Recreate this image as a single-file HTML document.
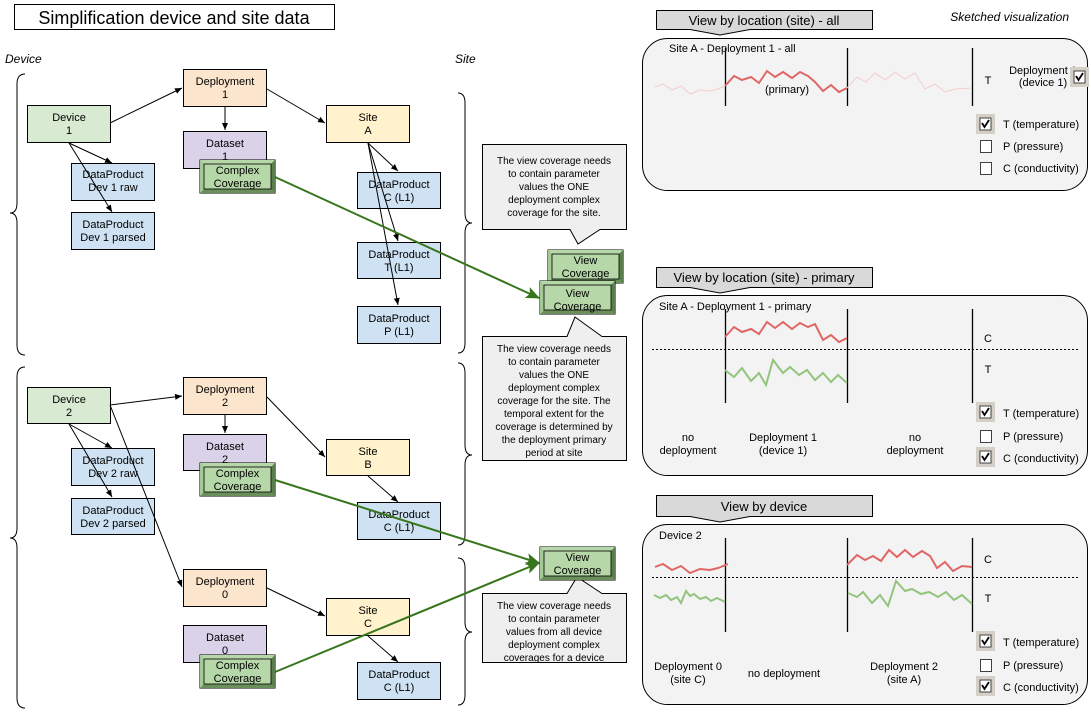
<!DOCTYPE html>
<html><head><meta charset="utf-8"><style>
html,body{margin:0;padding:0;background:#fff;}
svg{display:block;font-family:"Liberation Sans",Arial,sans-serif;}
</style></head><body>
<svg width="1091" height="719" viewBox="0 0 1091 719" xmlns="http://www.w3.org/2000/svg">
<defs>
<marker id="ab" markerWidth="8" markerHeight="8" refX="7" refY="4" orient="auto" markerUnits="userSpaceOnUse"><path d="M0,1 L7,4 L0,7 Z" fill="#000"/></marker>
<marker id="ag" markerWidth="14" markerHeight="12" refX="13" refY="6" orient="auto" markerUnits="userSpaceOnUse"><path d="M0,0 L14,6 L0,12 L3,6 Z" fill="#38761d"/></marker>
<g id="bev">
<rect x="0" y="0" width="75" height="33" fill="#93c47d" stroke="#000" stroke-width="1"/>
<polygon points="0,0 75,0 71,4 4,4" fill="#b6d7a8"/>
<polygon points="0,33 75,33 71,29 4,29" fill="#6a8f5a"/>
<polygon points="75,0 75,33 71,29 71,4" fill="#5b7f4c"/>
<polygon points="0,0 0,33 4,29 4,4" fill="#a5c996"/>
<rect x="4" y="4" width="67" height="25" fill="#b6d7a8" stroke="#000" stroke-width="0.8"/>
</g>
</defs>

<!-- title -->
<rect x="14.5" y="4.5" width="320" height="25" fill="#fff" stroke="#000"/>
<text x="174" y="24" font-size="18" text-anchor="middle">Simplification device and site data</text>
<text x="5" y="63" font-size="12" font-style="italic">Device</text>
<text x="455" y="63" font-size="12" font-style="italic">Site</text>

<!-- braces -->
<g fill="none" stroke="#000" stroke-width="1">
<path d="M25,74 Q17,74 17,84 L17,203 Q17,213 10,213 Q17,213 17,223 L17,345 Q17,355 25,355"/>
<path d="M25,367 Q17,367 17,377 L17,528 Q17,538 10,538 Q17,538 17,548 L17,698 Q17,708 25,708"/>
<path d="M458,93 Q465,93 465,103 L465,213 Q465,223 472,223 Q465,223 465,233 L465,343 Q465,353 458,353"/>
<path d="M458,363 Q465,363 465,373 L465,445 Q465,455 472,455 Q465,455 465,465 L465,535 Q465,545 458,545"/>
<path d="M458,558 Q465,558 465,568 L465,622 Q465,632 472,632 Q465,632 465,642 L465,695 Q465,705 458,705"/>
</g>

<!-- boxes -->
<g stroke="#000" stroke-width="1" font-size="11" text-anchor="middle">
<rect x="27.5" y="105.5" width="83" height="37" fill="#d9ead3"/>
<text x="69" y="121" stroke="none">Device</text><text x="69" y="134" stroke="none">1</text>
<rect x="183.5" y="69.5" width="83" height="37" fill="#fce5cd"/>
<text x="225" y="85" stroke="none">Deployment</text><text x="225" y="98" stroke="none">1</text>
<rect x="183.5" y="131.5" width="83" height="37" fill="#d9d2e9"/>
<text x="225" y="147" stroke="none">Dataset</text><text x="225" y="160" stroke="none">1</text>
<rect x="71.5" y="163.5" width="83" height="37" fill="#cfe2f3"/>
<text x="113" y="178" stroke="none">DataProduct</text><text x="113" y="191" stroke="none">Dev 1 raw</text>
<rect x="71.5" y="212.5" width="83" height="37" fill="#cfe2f3"/>
<text x="113" y="228" stroke="none">DataProduct</text><text x="113" y="241" stroke="none">Dev 1 parsed</text>
<rect x="326.5" y="105.5" width="83" height="37" fill="#fff2cc"/>
<text x="368" y="121" stroke="none">Site</text><text x="368" y="134" stroke="none">A</text>
<rect x="357.5" y="172.5" width="83" height="36" fill="#cfe2f3"/>
<text x="399" y="188" stroke="none">DataProduct</text><text x="399" y="201" stroke="none">C (L1)</text>
<rect x="357.5" y="242.5" width="83" height="36" fill="#cfe2f3"/>
<text x="399" y="258" stroke="none">DataProduct</text><text x="399" y="271" stroke="none">T (L1)</text>
<rect x="357.5" y="306.5" width="83" height="37" fill="#cfe2f3"/>
<text x="399" y="322" stroke="none">DataProduct</text><text x="399" y="335" stroke="none">P (L1)</text>

<rect x="27.5" y="387.5" width="83" height="36" fill="#d9ead3"/>
<text x="69" y="403" stroke="none">Device</text><text x="69" y="416" stroke="none">2</text>
<rect x="183.5" y="377.5" width="83" height="37" fill="#fce5cd"/>
<text x="225" y="393" stroke="none">Deployment</text><text x="225" y="406" stroke="none">2</text>
<rect x="183.5" y="434.5" width="83" height="36" fill="#d9d2e9"/>
<text x="225" y="450" stroke="none">Dataset</text><text x="225" y="463" stroke="none">2</text>
<rect x="71.5" y="448.5" width="83" height="37" fill="#cfe2f3"/>
<text x="113" y="464" stroke="none">DataProduct</text><text x="113" y="477" stroke="none">Dev 2 raw</text>
<rect x="71.5" y="498.5" width="83" height="36" fill="#cfe2f3"/>
<text x="113" y="514" stroke="none">DataProduct</text><text x="113" y="527" stroke="none">Dev 2 parsed</text>
<rect x="326.5" y="439.5" width="83" height="36" fill="#fff2cc"/>
<text x="368" y="455" stroke="none">Site</text><text x="368" y="468" stroke="none">B</text>
<rect x="357.5" y="502.5" width="83" height="37" fill="#cfe2f3"/>
<text x="399" y="518" stroke="none">DataProduct</text><text x="399" y="531" stroke="none">C (L1)</text>
<rect x="183.5" y="569.5" width="83" height="37" fill="#fce5cd"/>
<text x="225" y="585" stroke="none">Deployment</text><text x="225" y="598" stroke="none">0</text>
<rect x="326.5" y="598.5" width="83" height="37" fill="#fff2cc"/>
<text x="368" y="614" stroke="none">Site</text><text x="368" y="627" stroke="none">C</text>
<rect x="183.5" y="625.5" width="83" height="37" fill="#d9d2e9"/>
<text x="225" y="641" stroke="none">Dataset</text><text x="225" y="654" stroke="none">0</text>
<rect x="357.5" y="662.5" width="83" height="37" fill="#cfe2f3"/>
<text x="399" y="678" stroke="none">DataProduct</text><text x="399" y="691" stroke="none">C (L1)</text>
</g>

<!-- black arrows -->
<g stroke="#000" stroke-width="1" marker-end="url(#ab)" fill="none">
<line x1="110" y1="123" x2="182" y2="88"/>
<line x1="225" y1="107" x2="225" y2="130"/>
<line x1="267" y1="89" x2="325" y2="123"/>
<line x1="69" y1="143" x2="112" y2="163"/>
<line x1="69" y1="143" x2="112" y2="212"/>
<line x1="368" y1="143" x2="398" y2="171"/>
<line x1="368" y1="143" x2="398" y2="241"/>
<line x1="368" y1="143" x2="398" y2="305"/>
<line x1="110" y1="405" x2="182" y2="396"/>
<line x1="110" y1="405" x2="182" y2="587"/>
<line x1="225" y1="415" x2="225" y2="433"/>
<line x1="267" y1="397" x2="325" y2="457"/>
<line x1="69" y1="424" x2="112" y2="448"/>
<line x1="69" y1="424" x2="112" y2="497"/>
<line x1="368" y1="476" x2="398" y2="502"/>
<line x1="267" y1="588" x2="325" y2="616"/>
<line x1="368" y1="636" x2="398" y2="662"/>
</g>

<!-- complex coverages -->
<use href="#bev" x="200" y="160"/>
<text x="237.5" y="174" font-size="11" text-anchor="middle">Complex</text><text x="237.5" y="187" font-size="11" text-anchor="middle">Coverage</text>
<use href="#bev" x="200" y="463"/>
<text x="237.5" y="477" font-size="11" text-anchor="middle">Complex</text><text x="237.5" y="490" font-size="11" text-anchor="middle">Coverage</text>
<use href="#bev" x="200" y="655"/>
<text x="237.5" y="669" font-size="11" text-anchor="middle">Complex</text><text x="237.5" y="682" font-size="11" text-anchor="middle">Coverage</text>

<!-- callouts -->
<g fill="#efefef" stroke="#000" stroke-width="1">
<path d="M482.5,144.5 H626.5 V229.5 H600 L578,244 L570,229.5 H482.5 Z"/>
<path d="M482.5,336.5 H567 L575,317 L602,336.5 H626.5 V460.5 H482.5 Z"/>
<path d="M482.5,593.5 H567 L577,577 L602,593.5 H626.5 V662.5 H482.5 Z"/>
</g>
<g font-size="10" text-anchor="middle">
<text x="554" y="164">The view coverage needs</text>
<text x="554" y="177">to contain parameter</text>
<text x="554" y="190">values the ONE</text>
<text x="554" y="203">deployment complex</text>
<text x="554" y="216">coverage for the site.</text>
<text x="554" y="352">The view coverage needs</text>
<text x="554" y="365">to contain parameter</text>
<text x="554" y="378">values the ONE</text>
<text x="554" y="391">deployment complex</text>
<text x="554" y="404">coverage for the site. The</text>
<text x="554" y="417">temporal extent for the</text>
<text x="554" y="430">coverage is determined by</text>
<text x="554" y="443">the deployment primary</text>
<text x="554" y="456">period at site</text>
<text x="554" y="609">The view coverage needs</text>
<text x="554" y="622">to contain parameter</text>
<text x="554" y="635">values from all device</text>
<text x="554" y="648">deployment complex</text>
<text x="554" y="661">coverages for a device</text>
</g>

<!-- view coverages -->
<use href="#bev" x="548" y="250"/>
<text x="585.5" y="264" font-size="11" text-anchor="middle">View</text><text x="585.5" y="277" font-size="11" text-anchor="middle">Coverage</text>
<use href="#bev" x="540" y="281"/>
<text x="577.5" y="297" font-size="11" text-anchor="middle">View</text><text x="577.5" y="310" font-size="11" text-anchor="middle">Coverage</text>
<use href="#bev" x="540" y="547"/>
<text x="577.5" y="561" font-size="11" text-anchor="middle">View</text><text x="577.5" y="574" font-size="11" text-anchor="middle">Coverage</text>

<!-- green arrows -->
<g stroke="#38761d" stroke-width="2" fill="none" marker-end="url(#ag)">
<line x1="275" y1="177" x2="539" y2="298"/>
<line x1="275" y1="480" x2="539" y2="563"/>
<line x1="275" y1="672" x2="539" y2="563"/>
</g>

<text x="1069" y="21" font-size="12" font-style="italic" text-anchor="end">Sketched visualization</text>

<!-- panel headers -->
<g fill="#d9d9d9" stroke="#000" stroke-width="1">
<path d="M656.5,10.5 H872.5 V29.5 H750 L720,35 L690,29.5 H656.5 Z"/>
<path d="M656.5,267.5 H872.5 V287.5 H750 L720,293 L690,287.5 H656.5 Z"/>
<path d="M656.5,495.5 H872.5 V516.5 H750 L720,522 L690,516.5 H656.5 Z"/>
</g>
<g font-size="13" text-anchor="middle">
<text x="764" y="25">View by location (site) - all</text>
<text x="764" y="282">View by location (site) - primary</text>
<text x="764" y="511">View by device</text>
</g>

<!-- panels -->
<g fill="#f3f3f3" stroke="#000" stroke-width="1">
<rect x="642.5" y="38.5" width="445" height="152" rx="25"/>
<rect x="642.5" y="295.5" width="445" height="180" rx="25"/>
<rect x="642.5" y="524.5" width="445" height="180" rx="25"/>
</g>

<g font-size="11">
<!-- panel 1 -->
<text x="669" y="52">Site A - Deployment 1 - all</text>
<g stroke="#000" stroke-width="1.3"><line x1="725.5" y1="48" x2="725.5" y2="106"/><line x1="847.5" y1="48" x2="847.5" y2="106"/><line x1="972.5" y1="48" x2="972.5" y2="106"/></g>
<polyline fill="none" stroke="#f4cccc" stroke-width="1" points="655,87 663,84 672,90 681,86 690,94 700,90 710,91 718,89 725,86"/>
<polyline fill="none" stroke="#e06666" stroke-width="2" points="725,86 734,76 742,80 751,77 759,83 767,71 775,77 783,72 792,78 800,72 808,76 815,82 823,91 831,85 839,92 847,88"/>
<polyline fill="none" stroke="#f4cccc" stroke-width="1" points="847,88 857,77 866,82 875,73 885,80 895,72 905,79 915,73 925,89 935,84 945,92 955,89 972,88"/>
<text x="787" y="93" text-anchor="middle">(primary)</text>
<text x="988" y="84" text-anchor="middle">T</text>
<text x="1043" y="74" text-anchor="middle">Deployment 1</text>
<text x="1043" y="86" text-anchor="middle">(device 1)</text>

<!-- panel 2 -->
<text x="659" y="310">Site A - Deployment 1 - primary</text>
<g stroke="#000" stroke-width="1.3"><line x1="725.5" y1="309" x2="725.5" y2="403"/><line x1="847.5" y1="309" x2="847.5" y2="403"/><line x1="972.5" y1="309" x2="972.5" y2="403"/></g>
<line x1="652" y1="349.5" x2="1078" y2="349.5" stroke="#000" stroke-dasharray="2,2" stroke-width="1"/>
<polyline fill="none" stroke="#e06666" stroke-width="2" points="725,337 734,327 742,332 751,329 759,334 767,322 775,328 783,322 792,329 800,323 808,327 815,324 823,340 831,335 839,342 847,338"/>
<polyline fill="none" stroke="#93c47d" stroke-width="2" points="725,370 734,377 742,368 751,381 759,373 766,385 773,360 783,373 790,367 799,375 807,370 815,380 823,373 831,382 838,375 847,383"/>
<text x="988" y="342" text-anchor="middle">C</text>
<text x="988" y="373" text-anchor="middle">T</text>
<text x="688" y="441" text-anchor="middle">no</text><text x="688" y="454" text-anchor="middle">deployment</text>
<text x="783" y="441" text-anchor="middle">Deployment 1</text><text x="783" y="454" text-anchor="middle">(device 1)</text>
<text x="915" y="441" text-anchor="middle">no</text><text x="915" y="454" text-anchor="middle">deployment</text>

<!-- panel 3 -->
<text x="659" y="539">Device 2</text>
<g stroke="#000" stroke-width="1.3"><line x1="725.5" y1="538" x2="725.5" y2="632"/><line x1="847.5" y1="538" x2="847.5" y2="632"/><line x1="972.5" y1="538" x2="972.5" y2="632"/></g>
<line x1="652" y1="577.5" x2="1078" y2="577.5" stroke="#000" stroke-dasharray="2,2" stroke-width="1"/>
<polyline fill="none" stroke="#e06666" stroke-width="2" points="655,567 663,564 672,570 681,566 690,573 700,569 710,570 718,568 728,564"/>
<polyline fill="none" stroke="#93c47d" stroke-width="2" points="654,595 660,598 666,595 671,600 677,597 681,603 686,591 690,596 694,594 700,599 706,597 711,601 717,598 725,602"/>
<polyline fill="none" stroke="#e06666" stroke-width="2" points="847,565 857,555 865,560 873,556 881,561 889,550 897,557 905,550 913,557 922,551 930,556 937,568 945,562 953,571 962,566 972,567"/>
<polyline fill="none" stroke="#93c47d" stroke-width="2" points="848,593 857,597 863,592 872,603 880,595 888,606 896,581 905,591 912,589 921,594 929,592 938,597 946,592 954,600 962,595 972,604"/>
<text x="988" y="563" text-anchor="middle">C</text>
<text x="988" y="602" text-anchor="middle">T</text>
<text x="688" y="670" text-anchor="middle">Deployment 0</text><text x="688" y="683" text-anchor="middle">(site C)</text>
<text x="784" y="677" text-anchor="middle">no deployment</text>
<text x="904" y="670" text-anchor="middle">Deployment 2</text><text x="904" y="683" text-anchor="middle">(site A)</text>

<!-- legends -->
<text x="1003" y="128">T (temperature)</text>
<text x="1003" y="150">P (pressure)</text>
<text x="1003" y="172">C (conductivity)</text>
<text x="1003" y="417">T (temperature)</text>
<text x="1003" y="440">P (pressure)</text>
<text x="1003" y="462">C (conductivity)</text>
<text x="1003" y="646">T (temperature)</text>
<text x="1003" y="669">P (pressure)</text>
<text x="1003" y="691">C (conductivity)</text>
</g>

<!-- checkboxes -->
<g id="cb">
</g>
<g>
<!-- checked: -->
<g transform="translate(976,114)"><rect width="19" height="20" fill="#d4d0c8"/><rect x="4" y="4" width="11" height="12" fill="#fff" stroke="#404040"/><path d="M6,9 L8.5,13 L13,6" fill="none" stroke="#000" stroke-width="1.8"/></g>
<g transform="translate(1070,67)"><rect width="19" height="20" fill="#d4d0c8"/><rect x="4" y="4" width="11" height="12" fill="#fff" stroke="#404040"/><path d="M6,9 L8.5,13 L13,6" fill="none" stroke="#000" stroke-width="1.8"/></g>
<g transform="translate(976,402)"><rect width="19" height="20" fill="#d4d0c8"/><rect x="4" y="4" width="11" height="12" fill="#fff" stroke="#404040"/><path d="M6,9 L8.5,13 L13,6" fill="none" stroke="#000" stroke-width="1.8"/></g>
<g transform="translate(976,447)"><rect width="19" height="20" fill="#d4d0c8"/><rect x="4" y="4" width="11" height="12" fill="#fff" stroke="#404040"/><path d="M6,9 L8.5,13 L13,6" fill="none" stroke="#000" stroke-width="1.8"/></g>
<g transform="translate(976,631)"><rect width="19" height="20" fill="#d4d0c8"/><rect x="4" y="4" width="11" height="12" fill="#fff" stroke="#404040"/><path d="M6,9 L8.5,13 L13,6" fill="none" stroke="#000" stroke-width="1.8"/></g>
<g transform="translate(976,676)"><rect width="19" height="20" fill="#d4d0c8"/><rect x="4" y="4" width="11" height="12" fill="#fff" stroke="#404040"/><path d="M6,9 L8.5,13 L13,6" fill="none" stroke="#000" stroke-width="1.8"/></g>
<!-- unchecked -->
<rect x="980.5" y="140.5" width="11" height="12" fill="#fff" stroke="#404040"/>
<rect x="980.5" y="162.5" width="11" height="12" fill="#fff" stroke="#404040"/>
<rect x="980.5" y="430.5" width="11" height="12" fill="#fff" stroke="#404040"/>
<rect x="980.5" y="659.5" width="11" height="12" fill="#fff" stroke="#404040"/>
</g>
</svg>
</body></html>
